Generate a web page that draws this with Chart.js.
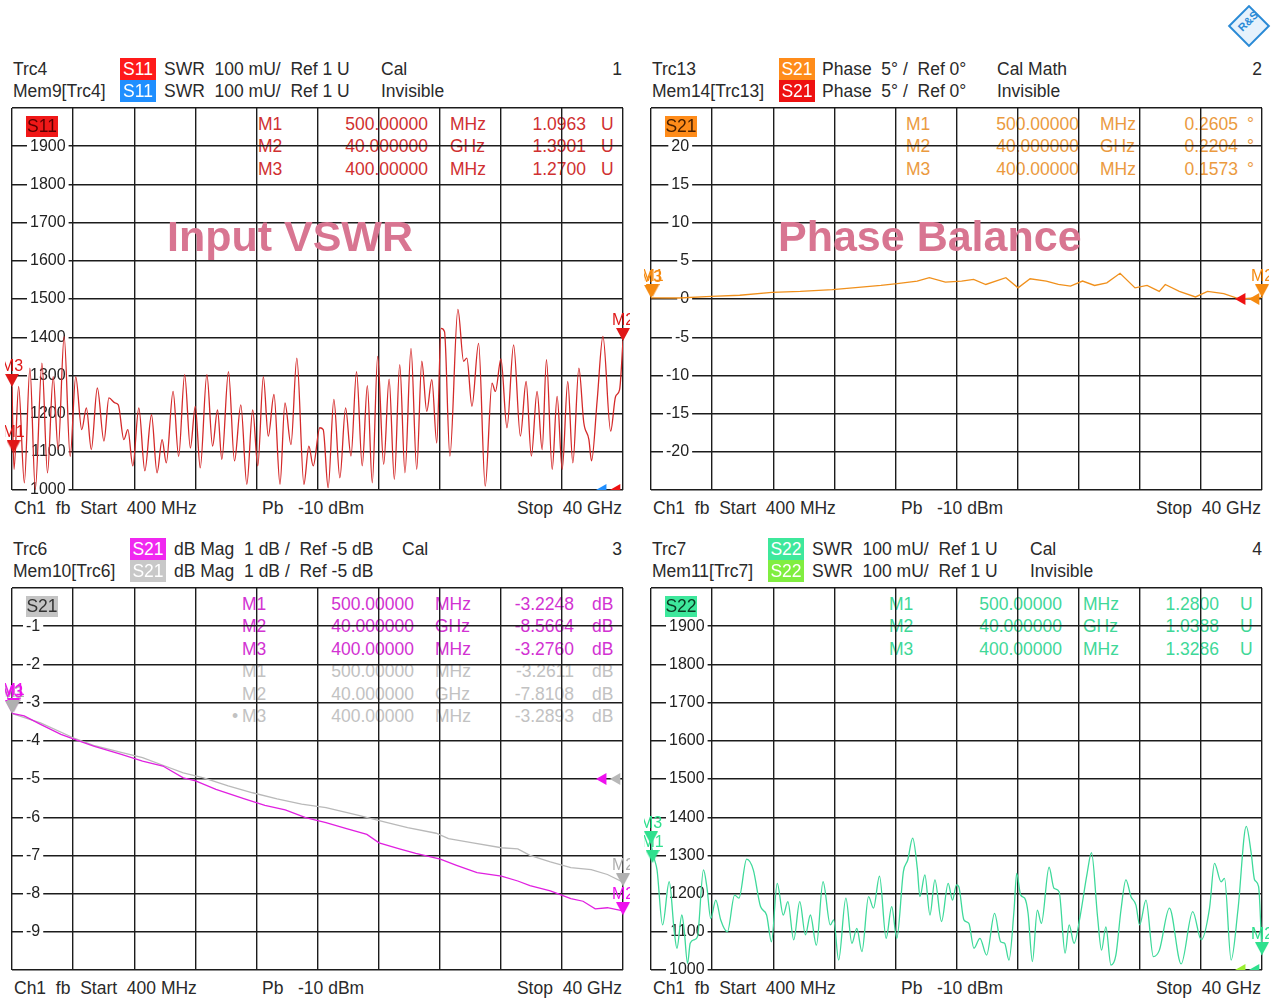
<!DOCTYPE html>
<html><head><meta charset="utf-8">
<script src="https://cdn.jsdelivr.net/npm/chart.js@4.4.1/dist/chart.umd.min.js"></script>
<style>
body{margin:0;background:#fff;}
#root{position:relative;width:1271px;height:1001px;overflow:hidden;background:#fff;font-family:'Liberation Sans',Arial,sans-serif;color:#2a2a2a;}
.t{position:absolute;font-size:17.5px;line-height:22px;height:22px;white-space:pre;z-index:1;}
.badge{position:absolute;height:22px;line-height:22px;text-align:center;font-size:17.5px;color:#fff;z-index:3;}
.title{position:absolute;font-weight:bold;font-size:43px;line-height:43px;color:#d87591;white-space:pre;z-index:5;}
canvas{position:absolute;z-index:2;}
</style></head><body><div id="root"></div>
<script>
// ---------- axis ticks ----------
const freqTicks = [0.4, 4.36, 8.32, 12.28, 16.24, 20.2, 24.16, 28.12, 32.08, 36.04, 40];
const swrTicks = [1000, 1100, 1200, 1300, 1400, 1500, 1600, 1700, 1800, 1900, 2000];
const swrTickLabels = ['1000','1100','1200','1300','1400','1500','1600','1700','1800','1900',''];
const phaseTicks = [-25, -20, -15, -10, -5, 0, 5, 10, 15, 20, 25];
const phaseTickLabels = ['','-20','-15','-10','-5','0','5','10','15','20',''];
const dbTicks = [-10, -9, -8, -7, -6, -5, -4, -3, -2, -1, 0];
const dbTickLabels = ['','-9','-8','-7','-6','-5','-4','-3','-2','-1',''];

// ---------- Input VSWR (S11, mU) ----------
const s11Freq = [0.40,0.53,0.83,1.20,1.56,1.91,2.34,2.70,3.07,3.39,3.78,4.17,4.53,4.92,5.22,5.54,5.93,6.36,6.68,7.07,
7.29,7.65,7.91,8.23,8.62,9.01,9.44,9.80,10.13,10.40,10.84,11.20,11.59,11.96,12.28,12.60,13.03,13.40,13.72,14.00,
14.43,14.82,15.23,15.62,16.00,16.33,16.69,17.01,17.38,17.77,18.09,18.48,18.86,19.32,19.64,19.92,
20.35,20.57,20.89,21.26,21.65,22.02,22.37,22.73,23.10,23.43,23.75,24.10,24.49,24.84,25.18,25.53,25.87,26.26,26.63,26.96,
27.28,27.61,27.93,28.21,28.43,28.78,29.30,29.67,29.88,30.21,30.64,31.07,31.51,31.73,32.09,32.48,32.91,33.35,33.72,34.06,
34.43,34.76,35.04,35.41,35.73,36.06,36.42,36.75,37.14,37.46,37.79,37.96,38.33,38.70,39.20,39.52,39.78,40.00];
const s11Val = [1270,1054,1271,1019,1319,1002,1332,1045,1297,1106,1402,1088,1297,1158,1215,1106,1267,1128,1241,1228,
1223,1132,1158,1063,1215,1050,1197,1045,1132,1071,1258,1088,1302,1110,1219,1058,1302,1115,1210,1080,
1310,1076,1223,1015,1210,1063,1297,1141,1250,1015,1228,1119,1345,1015,1115,1063,
1163,1158,1006,1237,1032,1215,1089,1310,1063,1273,1019,1350,1067,1290,1028,1328,1045,1371,1054,1337,
1206,1289,1123,1423,1415,1089,1473,1337,1345,1219,1384,1010,1280,1258,1343,1163,1380,1141,1284,1089,
1258,1106,1341,1054,1245,1054,1284,1071,1319,1176,1132,1076,1237,1402,1154,1245,1263,1390];

// ---------- Phase Balance (S21 phase, deg) ----------
const phFreq = [0.40,2.23,4.32,6.15,8.24,10.07,12.16,13.47,15.30,16.35,17.65,18.44,19.48,20.53,21.31,22.10,23.40,24.19,
24.97,26.02,26.80,27.59,28.37,29.15,29.94,30.80,31.77,32.55,33.34,33.73,34.64,35.69,36.47,37.52,38.56,40.00];
const phVal = [0.16,0.13,0.35,0.49,0.88,1.00,1.24,1.46,1.77,2.00,2.35,2.79,2.21,2.35,2.57,1.90,2.79,1.46,
2.65,2.35,1.90,1.68,2.35,1.77,2.12,3.36,1.46,1.77,1.00,1.90,1.00,0.27,1.00,0.71,0.00,0.22];

// ---------- Insertion Loss (S21 dB) ----------
const ilFreq = [0.40,1.19,2.25,3.57,4.37,5.69,7.54,8.86,10.18,11.50,12.30,13.62,15.47,16.79,18.11,19.43,20.75,22.08,
23.40,24.19,25.51,26.57,28.16,29.21,30.54,32.12,33.18,33.97,35.29,36.62,37.41,38.20,38.99,40.00];
const ilVal = [-3.28,-3.35,-3.57,-3.83,-3.95,-4.14,-4.36,-4.53,-4.66,-4.97,-5.05,-5.27,-5.52,-5.69,-5.81,-6.01,-6.14,-6.30,
-6.45,-6.67,-6.83,-6.95,-7.10,-7.26,-7.45,-7.54,-7.67,-7.79,-7.93,-8.13,-8.20,-8.40,-8.37,-8.45];
const ilMemFreq = [0.40,2.25,4.37,5.69,7.54,8.86,10.18,11.50,12.82,14.41,15.99,17.58,19.17,20.75,22.87,24.72,26.04,27.89,
28.69,30.27,32.12,33.18,33.97,35.29,36.62,37.94,38.99,40.00];
const ilMemVal = [-3.29,-3.53,-3.92,-4.12,-4.31,-4.44,-4.64,-4.84,-4.97,-5.18,-5.36,-5.52,-5.66,-5.75,-5.95,-6.14,-6.27,-6.42,
-6.56,-6.67,-6.80,-6.83,-7.00,-7.17,-7.32,-7.37,-7.50,-7.70];

// ---------- Output VSWR (S22, mU) ----------
const s22Freq = [0.40,0.62,0.79,1.15,1.58,1.91,2.08,2.40,2.55,2.77,2.94,3.20,3.41,3.80,4.02,4.27,4.60,4.92,5.35,5.82,
6.10,6.60,7.03,7.50,7.89,8.21,8.58,8.97,9.27,9.65,10.04,10.41,10.73,11.12,11.55,12.02,12.24,12.56,13.03,13.42,
13.74,14.07,14.50,14.82,15.21,15.64,16.00,16.33,16.76,17.04,17.36,17.66,17.83,18.15,18.48,18.80,19.23,19.66,19.94,
20.20,20.35,20.68,21.00,21.33,21.72,22.15,22.67,23.06,23.32,23.60,23.93,24.10,24.36,24.62,24.84,25.12,25.44,25.70,26.20,
26.52,26.85,27.24,27.50,27.82,28.21,28.65,28.95,29.34,29.60,29.88,30.21,30.53,30.86,31.18,31.51,31.83,32.07,32.48,32.96,
33.35,34.00,34.76,35.51,36.06,36.60,36.92,37.35,37.57,38.00,38.44,38.98,39.30,39.52,39.78,40.00];
const s22Val = [1329,1290,1262,1118,1231,1100,1057,1144,1105,1017,1070,1079,1087,1262,1218,1135,1183,1131,1100,1196,
1188,1290,1262,1166,1144,1074,1227,1144,1179,1079,1179,1092,1144,1065,1231,1118,1131,1026,1188,1070,
1109,1048,1192,1162,1246,1083,1166,1083,1258,1288,1345,1266,1192,1249,1144,1236,1127,1227,1183,
1223,1218,1131,1122,1057,1083,1039,1148,1074,1070,1026,1157,1253,1196,1188,1148,1022,1157,1122,1269,
1214,1205,1044,1118,1070,1140,1249,1307,1140,1052,1113,1013,1039,1157,1236,1192,1170,1118,1183,1035,
1052,1162,1016,1153,1079,1162,1279,1231,1240,1026,1157,1376,1306,1236,1218,1039];

// ---------- Markers ----------
const markerNames = ['M1','M2','M3'];
const markerFreq = [0.5, 40, 0.4];
const s11MarkVal = [1.0963, 1.3901, 1.2700];
const phMarkVal = [0.2605, 0.2204, 0.1573];
const ilMarkVal = [-3.2248, -8.5664, -3.2760];
const ilMemMarkVal = [-3.2611, -7.8108, -3.2893];
const s22MarkVal = [1.2800, 1.0388, 1.3286];
// reference-level indicators
const refFreq = [38.7, 39.6];
const swrRef = [1000, 1000];
const phRef = [0, 0];
const dbRef = [-5, -5];

// ---------- helpers ----------
const W = 1271;
const root = document.getElementById('root');
const P = 7;
const GRID = '#1c1c1c';
const FONT = "'Liberation Sans', Arial, sans-serif";

function txt(x, cy, s, color, right, cls) {
  const e = document.createElement('div');
  e.className = cls || 't';
  e.textContent = s;
  e.style.top = (cy - 11) + 'px';
  if (right) e.style.right = (W - x) + 'px'; else e.style.left = x + 'px';
  if (color) e.style.color = color;
  root.appendChild(e);
  return e;
}
function badge(x, cy, w, s, bg, fg, h) {
  const e = document.createElement('div');
  e.className = 'badge';
  e.textContent = s;
  h = h || 22;
  e.style.left = x + 'px'; e.style.top = (cy - h / 2) + 'px';
  e.style.width = w + 'px'; e.style.height = h + 'px'; e.style.lineHeight = h + 'px';
  e.style.background = bg; e.style.color = fg;
  root.appendChild(e);
}
function title(x, baseline, s) {
  const e = document.createElement('div');
  e.className = 'title';
  e.textContent = s;
  e.style.left = x + 'px';
  e.style.top = (baseline - 36.4) + 'px';
  root.appendChild(e);
}
function fmtFreq(f) { return f < 1 ? (f * 1000).toFixed(5) : f.toFixed(6); }
function fmtUnit(f) { return f < 1 ? 'MHz' : 'GHz'; }
function pts(xs, ys, k) { return xs.map((x, i) => ({ x: x, y: ys[i] * (k || 1) })); }
function tri(color) {
  const c = document.createElement('canvas');
  c.width = 14; c.height = 26;
  const g = c.getContext('2d');
  g.fillStyle = color;
  g.beginPath(); g.moveTo(0, 0); g.lineTo(14, 0); g.lineTo(7, 13); g.closePath(); g.fill();
  return c;
}

const markerLabelPlugin = {
  id: 'mlabels',
  afterDatasetsDraw(chart) {
    const ctx = chart.ctx;
    chart.data.datasets.forEach((ds, i) => {
      if (!ds.mNames) return;
      const meta = chart.getDatasetMeta(i);
      ctx.save();
      ctx.font = '16px ' + FONT;
      ctx.fillStyle = ds.mColor;
      ctx.textAlign = 'center';
      ctx.textBaseline = 'alphabetic';
      meta.data.forEach((pt, j) => { ctx.fillText(ds.mNames[j], pt.x, pt.y - 16); });
      ctx.restore();
    });
  }
};

function markerSet(vals, color, k) {
  return { data: pts(markerFreq, vals, k), showLine: false, pointStyle: tri(color), pointRadius: 5,
           clip: false, mNames: markerNames, mColor: color };
}
function refSet(vals, colors) {
  return { data: pts(refFreq, vals), showLine: false, pointStyle: 'triangle', pointRotation: 270,
           pointRadius: 7, pointBackgroundColor: colors, pointBorderWidth: 0, clip: 0 };
}
function traceSet(xs, ys, color, smooth) {
  const d = { data: pts(xs, ys), borderColor: color, borderWidth: 1.3, pointRadius: 0, tension: 0 };
  if (smooth) d.cubicInterpolationMode = 'monotone';
  return d;
}

function makeChart(ox, oy, datasets, yMin, yMax, yTicks, yLabels, pad) {
  const c = document.createElement('canvas');
  const w = 611 + 2 * P, h = 382 + 2 * P;
  c.width = w; c.height = h;
  c.style.left = (ox + 12 - P) + 'px'; c.style.top = (oy + 108 - P) + 'px';
  c.style.width = w + 'px'; c.style.height = h + 'px';
  root.appendChild(c);
  return new Chart(c, {
    type: 'line',
    data: { datasets: datasets },
    options: {
      responsive: false, animation: false, events: [],
      layout: { padding: P },
      plugins: { legend: { display: false }, tooltip: { enabled: false } },
      scales: {
        x: { type: 'linear', min: 0.4, max: 40,
             afterBuildTicks: a => { a.ticks = freqTicks.map(v => ({ value: v })); },
             ticks: { display: false },
             grid: { color: GRID, lineWidth: 1.4, drawTicks: false },
             border: { display: false } },
        y: { type: 'linear', min: yMin, max: yMax,
             afterBuildTicks: a => { a.ticks = yTicks.map(v => ({ value: v })); },
             afterFit: s => { s.width = 0; s.paddingTop = 0; s.paddingBottom = 0; },
             ticks: { mirror: true, crossAlign: 'far', padding: pad, color: '#222',
                      font: { family: FONT, size: 16 },
                      callback: (v, i) => yLabels[i],
                      showLabelBackdrop: ctx => !!yLabels[ctx.index],
                      backdropColor: ctx => (yLabels[ctx.index] ? '#ffffff' : 'rgba(0,0,0,0)'),
                      backdropPadding: { left: 3, right: 3, top: 0, bottom: 0 } },
             grid: { color: GRID, lineWidth: 1.4, drawTicks: false },
             border: { display: false } }
      }
    },
    plugins: [markerLabelPlugin]
  });
}

function markerTable(ox, oy, cols, rows, color) {
  rows.forEach((r, k) => {
    const cy = oy + 124 + k * 22.4;
    const col = r.color || color;
    if (r.bullet) txt(ox + cols[0] - 10, cy, '\u2022', col);
    txt(ox + cols[0], cy, r.name, col);
    txt(ox + cols[1], cy, fmtFreq(r.f), col, true);
    txt(ox + cols[2], cy, fmtUnit(r.f), col);
    txt(ox + cols[3], cy, r.v.toFixed(4), col, true);
    txt(ox + cols[4], cy, r.u, col);
  });
}
function rowsFrom(vals, unit, color, bulletLast) {
  return markerNames.map((n, i) => ({ name: n, f: markerFreq[i], v: vals[i], u: unit, color: color,
                                      bullet: bulletLast && i === 2 }));
}
function footer(ox, oy) {
  txt(ox + 14, oy + 508, 'Ch1  fb  Start  400 MHz');
  txt(ox + 262, oy + 508, 'Pb   -10 dBm');
  txt(ox + 622, oy + 508, 'Stop  40 GHz', null, true);
}

// ---------- colours ----------
const RED = '#d42a2a', ORANGE = '#f0901c', MAGENTA = '#e020e0', GRAY = '#b9b9b9', GREEN = '#3ed99a';

// ===== Panel 1: Input VSWR =====
(function () {
  const ox = 0, oy = 0;
  txt(ox + 13, oy + 69, 'Trc4');
  badge(ox + 120, oy + 69, 36, 'S11', '#ff1a1a', '#fff');
  txt(ox + 164, oy + 69, 'SWR  100 mU/  Ref 1 U');
  txt(ox + 381, oy + 69, 'Cal');
  txt(ox + 622, oy + 69, '1', null, true);
  txt(ox + 13, oy + 91, 'Mem9[Trc4]');
  badge(ox + 120, oy + 91, 36, 'S11', '#1f8fff', '#fff');
  txt(ox + 164, oy + 91, 'SWR  100 mU/  Ref 1 U');
  txt(ox + 381, oy + 91, 'Invisible');
  badge(ox + 26, oy + 126, 32, 'S11', '#f01818', '#5a0000', 21);
  markerTable(ox, oy, [258, 428, 450, 586, 601], rowsFrom(s11MarkVal, 'U'), '#d03030');
  makeChart(ox, oy, [
    markerSet(s11MarkVal, '#e01818', 1000),
    refSet(swrRef, ['#1f8fff', '#ee1111']),
    traceSet(s11Freq, s11Val, RED, true)
  ], 1000, 2000, swrTicks, swrTickLabels, 18);
  title(ox + 167, oy + 251, 'Input VSWR');
  footer(ox, oy);
})();

// ===== Panel 2: Phase Balance =====
(function () {
  const ox = 639, oy = 0;
  txt(ox + 13, oy + 69, 'Trc13');
  badge(ox + 140, oy + 69, 36, 'S21', '#ff8c1a', '#fff');
  txt(ox + 183, oy + 69, 'Phase  5\u00b0 /  Ref 0\u00b0');
  txt(ox + 358, oy + 69, 'Cal Math');
  txt(ox + 623, oy + 69, '2', null, true);
  txt(ox + 13, oy + 91, 'Mem14[Trc13]');
  badge(ox + 140, oy + 91, 36, 'S21', '#ee1111', '#fff');
  txt(ox + 183, oy + 91, 'Phase  5\u00b0 /  Ref 0\u00b0');
  txt(ox + 358, oy + 91, 'Invisible');
  badge(ox + 26, oy + 126, 32, 'S21', '#ff8c1a', '#4a2000', 21);
  markerTable(ox, oy, [267, 440, 461, 599, 608], rowsFrom(phMarkVal, '\u00b0'), '#eb9a3e');
  makeChart(ox, oy, [
    markerSet(phMarkVal, '#f58a10', 1),
    refSet(phRef, ['#ee1111', '#f58a10']),
    traceSet(phFreq, phVal, ORANGE, false)
  ], -25, 25, phaseTicks, phaseTickLabels, 15);
  title(ox + 139, oy + 251, 'Phase Balance');
  footer(ox, oy);
})();

// ===== Panel 3: Insertion Loss =====
(function () {
  const ox = 0, oy = 480;
  txt(ox + 13, oy + 69, 'Trc6');
  badge(ox + 130, oy + 69, 36, 'S21', '#f028f0', '#fff');
  txt(ox + 174, oy + 69, 'dB Mag  1 dB /  Ref -5 dB');
  txt(ox + 402, oy + 69, 'Cal');
  txt(ox + 622, oy + 69, '3', null, true);
  txt(ox + 13, oy + 91, 'Mem10[Trc6]');
  badge(ox + 130, oy + 91, 36, 'S21', '#c8c8c8', '#fff');
  txt(ox + 174, oy + 91, 'dB Mag  1 dB /  Ref -5 dB');
  badge(ox + 26, oy + 126, 32, 'S21', '#c4c4c4', '#333', 21);
  markerTable(ox, oy, [242, 414, 435, 574, 592],
    rowsFrom(ilMarkVal, 'dB', '#d232d2').concat(rowsFrom(ilMemMarkVal, 'dB', '#c2c2c2', true)), '#d232d2');
  makeChart(ox, oy, [
    markerSet(ilMemMarkVal, '#b0b0b0', 1),
    markerSet(ilMarkVal, '#ee10ee', 1),
    refSet(dbRef, ['#ee10ee', '#b8b8b8']),
    traceSet(ilFreq, ilVal, MAGENTA, false),
    traceSet(ilMemFreq, ilMemVal, GRAY, false)
  ], -10, 0, dbTicks, dbTickLabels, 14);
  title(ox + 168, oy + 772, 'Insertion Loss'.replace('', ''));
  footer(ox, oy);
})();

// ===== Panel 4: Output VSWR =====
(function () {
  const ox = 639, oy = 480;
  txt(ox + 13, oy + 69, 'Trc7');
  badge(ox + 129, oy + 69, 36, 'S22', '#3ee89c', '#fff');
  txt(ox + 173, oy + 69, 'SWR  100 mU/  Ref 1 U');
  txt(ox + 391, oy + 69, 'Cal');
  txt(ox + 623, oy + 69, '4', null, true);
  txt(ox + 13, oy + 91, 'Mem11[Trc7]');
  badge(ox + 129, oy + 91, 36, 'S22', '#80ee40', '#fff');
  txt(ox + 173, oy + 91, 'SWR  100 mU/  Ref 1 U');
  txt(ox + 391, oy + 91, 'Invisible');
  badge(ox + 26, oy + 126, 32, 'S22', '#3ee89c', '#0b3a22', 21);
  markerTable(ox, oy, [250, 423, 444, 580, 601], rowsFrom(s22MarkVal, 'U'), '#3fd898');
  makeChart(ox, oy, [
    markerSet(s22MarkVal, '#2fe08e', 1000),
    refSet(swrRef, ['#9af030', '#2fe08e']),
    traceSet(s22Freq, s22Val, GREEN, true)
  ], 1000, 2000, swrTicks, swrTickLabels, 18);
  title(ox + 140, oy + 772, 'Output VSWR');
  footer(ox, oy);
})();

// R&S logo
(function () {
  const d = document.createElement('div');
  d.style.cssText = 'position:absolute;left:1234px;top:11px;width:26px;height:26px;transform:rotate(45deg);border:2px solid #2a8ad6;background:#e6f2fc;z-index:4;';
  root.appendChild(d);
  const t = document.createElement('div');
  t.textContent = 'R&S';
  t.style.cssText = "position:absolute;left:1231px;top:15px;width:34px;text-align:center;font:bold 11px 'Liberation Sans',Arial,sans-serif;color:#2a8ad6;transform:rotate(-45deg);z-index:5;";
  root.appendChild(t);
})();
</script></body></html>
